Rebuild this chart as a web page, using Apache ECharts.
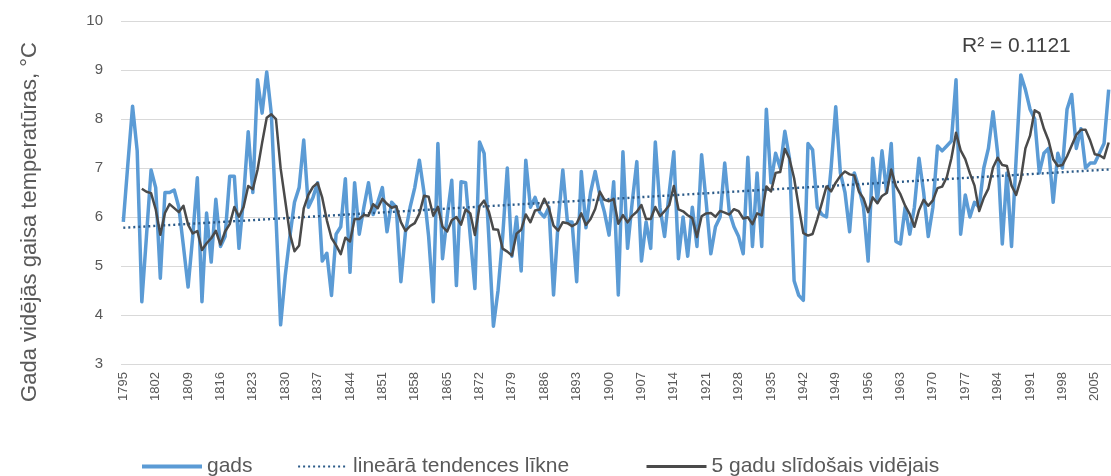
<!DOCTYPE html>
<html>
<head>
<meta charset="utf-8">
<script src="https://cdn.jsdelivr.net/npm/echarts@6/dist/echarts.min.js"></script>
<style>
html,body{margin:0;padding:0;background:#fff;}
#c{width:1111px;height:476px;}
</style>
</head>
<body>
<div id="c"></div>
<script>
// Years (categories)
const startYear = 1795;
const endYear = 2008;
// Annual mean air temperature, °C (series "gads"), 1795..2008
const temps1795 = [5.9, 7.1, 8.26, 7.35, 4.27];
const temps1800 = [5.6, 6.96, 6.6, 4.75, 6.5, 6.5, 6.55, 6.2, 5.4, 4.57];
const temps1810 = [5.6, 6.8, 4.27, 6.08, 5.08, 6.36, 5.4, 5.6, 6.83, 6.83];
const temps1820 = [5.36, 6.4, 7.74, 6.5, 8.8, 8.12, 8.96, 8.1, 6.0, 3.8];
const temps1830 = [4.8, 5.6, 6.3, 6.6, 7.57, 6.2, 6.4, 6.7, 5.1, 5.26];
const temps1840 = [4.4, 5.65, 5.8, 6.78, 4.87, 6.7, 5.65, 6.2, 6.7, 6.05];
const temps1850 = [6.3, 6.6, 5.7, 6.3, 6.2, 4.68, 5.7, 6.2, 6.6, 7.16];
const temps1860 = [6.5, 5.6, 4.27, 7.5, 5.15, 6.0, 6.75, 4.6, 6.72, 6.7];
const temps1870 = [5.6, 4.54, 7.53, 7.3, 5.6, 3.77, 4.5, 5.6, 7.0, 5.2];
const temps1880 = [6.0, 4.9, 7.16, 6.2, 6.4, 6.1, 6.0, 6.2, 4.41, 5.9];
const temps1890 = [6.96, 5.9, 5.9, 4.68, 6.93, 5.78, 6.5, 6.93, 6.45, 6.1];
const temps1900 = [5.63, 6.72, 4.41, 7.33, 5.36, 6.3, 7.13, 5.1, 5.9, 5.36];
const temps1910 = [7.53, 6.2, 5.6, 6.5, 7.33, 5.15, 6.0, 5.2, 6.2, 5.4];
const temps1920 = [7.27, 6.3, 5.25, 5.8, 6.0, 7.1, 6.1, 5.8, 5.6, 5.25];
const temps1930 = [7.22, 5.4, 6.9, 5.4, 8.2, 6.7, 7.3, 7.0, 7.75, 7.2];
const temps1940 = [4.7, 4.4, 4.3, 7.5, 7.37, 6.2, 6.05, 6.0, 7.0, 8.25];
const temps1950 = [6.9, 6.5, 5.7, 6.9, 6.6, 6.2, 5.1, 7.2, 6.3, 7.35];
const temps1960 = [6.5, 7.5, 5.5, 5.45, 6.2, 5.65, 6.2, 7.2, 6.5, 5.6];
const temps1970 = [6.2, 7.45, 7.35, 7.45, 7.55, 8.8, 5.65, 6.45, 6.0, 6.3];
const temps1980 = [6.2, 7.0, 7.4, 8.15, 7.3, 5.45, 6.9, 5.4, 7.2, 8.9];
const temps1990 = [8.6, 8.2, 8.0, 6.9, 7.3, 7.4, 6.3, 7.3, 7.0, 8.2];
const temps2000 = [8.5, 7.4, 7.8, 7.0, 7.1, 7.1, 7.3, 7.5, 8.6];
// Linear trend line end values (first year, last year)
const trendEnds = [5.78, 6.97];
// Moving average period (Excel trendline)
const maPeriod = 5;
const yTicks = [3, 4, 5, 6, 7, 8, 9, 10];

const seriesNames = ['gads', 'lineārā tendences līkne', '5 gadu slīdošais vidējais'];
const yTitle = 'Gada vidējās gaisa temperatūras, °C';
const r2Text = 'R² = 0.1121';

const temps = [].concat(temps1795, temps1800, temps1810, temps1820, temps1830, temps1840,
  temps1850, temps1860, temps1870, temps1880, temps1890, temps1900, temps1910, temps1920,
  temps1930, temps1940, temps1950, temps1960, temps1970, temps1980, temps1990, temps2000);

const years = [];
for (let y = startYear; y <= endYear; y++) years.push(String(y));

// Excel moving-average trendline (trailing, period 5)
const movAvg = temps.map((v, i) => {
  if (i < maPeriod - 1) return null;
  let s = 0;
  for (let k = i - maPeriod + 1; k <= i; k++) s += temps[k];
  return +(s / maPeriod).toFixed(3);
});

// Trend: only the two end values, the library draws the straight line
const trend = temps.map(() => null);
trend[0] = trendEnds[0];
trend[trend.length - 1] = trendEnds[1];

const FONT = 'Liberation Sans';
const legendText = {color: '#595959', fontSize: 21, fontFamily: FONT};
const chart = echarts.init(document.getElementById('c'), null, {renderer: 'canvas'});
chart.setOption({
  animation: false,
  backgroundColor: '#ffffff',
  textStyle: {fontFamily: FONT},
  grid: {left: 121, right: 0, top: 21, bottom: 112, containLabel: false},
  xAxis: {
    type: 'category',
    data: years,
    boundaryGap: true,
    axisLine: {show: false},
    axisTick: {show: false},
    axisLabel: {
      interval: 6,
      rotate: 90,
      color: '#595959',
      fontSize: 13,
      fontFamily: FONT,
      margin: 8
    },
    splitLine: {show: false}
  },
  yAxis: {
    type: 'value',
    min: yTicks[0],
    max: yTicks[yTicks.length - 1],
    interval: 1,
    axisLine: {show: false},
    axisTick: {show: false},
    axisLabel: {color: '#595959', fontSize: 15, fontFamily: FONT, margin: 18},
    splitLine: {show: true, lineStyle: {color: '#D9D9D9', width: 1}}
  },
  legend: [
    {left: 135, top: 451, itemWidth: 60, itemHeight: 14, itemGap: 0, data: [seriesNames[0]],
     itemStyle: {opacity: 0}, lineStyle: {width: 4}, textStyle: legendText},
    {left: 292, top: 451, itemWidth: 50, itemHeight: 14, itemGap: 0, data: [seriesNames[1]],
     itemStyle: {opacity: 0}, lineStyle: {width: 2.2}, textStyle: legendText},
    {left: 640, top: 451, itemWidth: 60, itemHeight: 14, itemGap: 0, data: [seriesNames[2]],
     itemStyle: {opacity: 0}, lineStyle: {width: 3}, textStyle: legendText}
  ],
  graphic: [
    {type: 'text', x: 30, y: 222, rotation: Math.PI / 2,
     style: {text: yTitle, fill: '#595959', font: '22px "' + FONT + '"', align: 'center', verticalAlign: 'middle'}},
    {type: 'text', x: 962, y: 46,
     style: {text: r2Text, fill: '#404040', font: '21px "' + FONT + '"', align: 'left', verticalAlign: 'middle'}}
  ],
  series: [
    {
      name: seriesNames[0], type: 'line', data: temps, symbol: 'none', smooth: false,
      lineStyle: {color: '#5B9BD5', width: 3.5, join: 'round'},
      itemStyle: {color: '#5B9BD5'}, z: 2
    },
    {
      name: seriesNames[1], type: 'line', data: trend, connectNulls: true, symbol: 'none',
      lineStyle: {color: '#2B5A88', width: 2.4, type: [2, 3]},
      itemStyle: {color: '#2B5A88'}, z: 3
    },
    {
      name: seriesNames[2], type: 'line', data: movAvg, symbol: 'none', smooth: false,
      lineStyle: {color: '#4A4A4A', width: 2.5, join: 'round'},
      itemStyle: {color: '#4A4A4A'}, z: 4
    }
  ]
});
</script>
</body>
</html>
